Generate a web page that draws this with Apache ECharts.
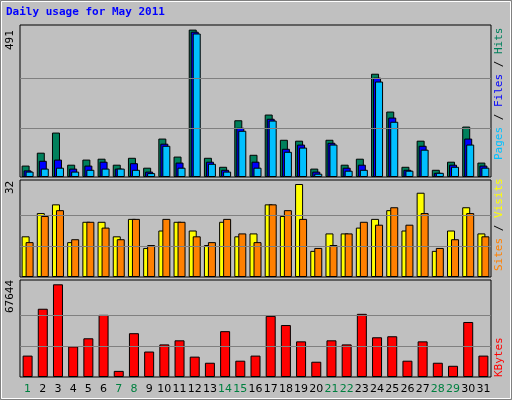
<!DOCTYPE html>
<html><head><meta charset="utf-8">
<script src="https://cdn.jsdelivr.net/npm/echarts@6/dist/echarts.min.js"></script>
<style>html,body{margin:0;padding:0;background:#C0C0C0}#c{width:512px;height:400px}</style>
</head><body><div id="c"></div>
<script>
const days = ['1','2','3','4','5','6','7','8','9','10','11','12','13','14','15','16','17','18','19','20','21','22','23','24','25','26','27','28','29','30','31'];
const weekend = ['1','7','8','14','15','21','22','28','29'];
const hits  = [38,81,148,41,58,61,41,64,31,128,68,491,64,34,189,74,208,124,121,28,124,41,61,344,218,34,121,24,51,168,48];
const files = [22,54,58,28,38,51,28,46,18,111,48,484,51,24,164,51,194,94,108,18,114,31,41,331,198,24,104,14,41,128,38];
const pages = [18,28,31,18,24,28,28,24,13,104,31,478,44,18,154,31,188,84,98,11,108,21,24,318,184,21,91,14,34,108,31];
const visits = [14,22,25,12,19,19,14,20,10,16,19,16,11,19,14,15,25,21,32,9,15,15,17,20,23,16,29,9,16,24,15];
const sites  = [12,21,23,13,19,17,13,20,11,20,19,14,12,20,15,12,25,23,20,10,11,15,19,18,24,18,22,10,13,22,14];
const kbytes = [15610,49805,67644,22300,28247,45345,4460,31964,18584,23787,26761,14867,10407,33451,11894,15610,44601,37911,26017,11150,26761,23787,46088,28990,29734,11894,26017,10407,8177,40141,15610];
const maxHits = 491, maxVisits = 32, maxKB = 67644;

const chart = echarts.init(document.getElementById('c'), null, {renderer:'canvas'});
const grids = [
  {left:20, right:21, top:25, height:152},
  {left:20, right:21, top:180, height:97},
  {left:20, right:21, top:280, height:97}
];
const ymax = [maxHits*152/147.4, maxVisits*97/93, maxKB*97/92.7];
const thirds = m => [{yAxis:m/3},{yAxis:2*m/3}];
function gridLine(idx, m){
  return {type:'line', xAxisIndex:idx, yAxisIndex:idx, data:[], z:1, silent:true,
    markLine:{silent:true, symbol:'none', label:{show:false}, animation:false,
      lineStyle:{color:'#808080', type:'solid', width:1}, data:thirds(m)}};
}
const bs = (name, data, color, idx, w, gap) => ({type:'bar', name, data, xAxisIndex:idx, yAxisIndex:idx,
  barWidth:w, barGap:gap, z:3, itemStyle:{color, borderColor:'#000', borderWidth:1}, animation:false});
const mono = '11px "DejaVu Sans Mono"';

chart.setOption({
  backgroundColor:'#C0C0C0',
  animation:false,
  grid: grids.map(g => Object.assign({show:true, backgroundColor:'#C0C0C0', borderColor:'#000', borderWidth:1}, g)),
  xAxis: [0,1,2].map(i => ({type:'category', gridIndex:i, data:days, boundaryGap:true,
    axisLine:{show:false}, axisTick:{show:false},
    axisLabel:{show:i===2, interval:0, margin:7, fontFamily:'DejaVu Sans', fontSize:11,
      color: v => weekend.includes(v) ? '#008040' : '#000'}})),
  yAxis: [0,1,2].map(i => ({type:'value', gridIndex:i, min:0, max:ymax[i],
    axisLine:{show:false}, axisTick:{show:false}, axisLabel:{show:false}, splitLine:{show:false}})),
  series: [
    gridLine(0,maxHits), gridLine(1,maxVisits), gridLine(2,maxKB),
    bs('Hits', hits, '#00805C', 0, 8, '-75%'),
    bs('Files', files, '#0000FF', 0, 8, '-75%'),
    bs('Pages', pages, '#00C0FF', 0, 8, '-75%'),
    bs('Visits', visits, '#FFFF00', 1, 8, '-50%'),
    bs('Sites', sites, '#FF8000', 1, 8, '-50%'),
    bs('KBytes', kbytes, '#FF0000', 2, 10, '0%')
  ],
  graphic: [
    {type:'rect', shape:{x:0.5,y:0.5,width:511,height:399}, style:{fill:'none', stroke:'#808080', lineWidth:1}, silent:true},
    {type:'rect', shape:{x:1.5,y:1.5,width:509,height:397}, style:{fill:'none', stroke:'#FFFFFF', lineWidth:1}, silent:true},
    {type:'text', left:6, top:7, style:{text:'Daily usage for May 2011', fill:'#0000FF', font:'bold 11px "DejaVu Sans Mono"'}},
    {type:'text', x:5, y:50, rotation:Math.PI/2, style:{text:String(maxHits), fill:'#000', font:mono}},
    {type:'text', x:5, y:194, rotation:Math.PI/2, style:{text:String(maxVisits), fill:'#000', font:mono}},
    {type:'text', x:5, y:313, rotation:Math.PI/2, style:{text:String(maxKB), fill:'#000', font:mono}},
    {type:'text', x:494, y:160, rotation:Math.PI/2, style:{
      text:'{p|Pages}{s| / }{f|Files}{s| / }{h|Hits}', font:mono,
      rich:{p:{fill:'#00C0FF',font:mono},s:{fill:'#000',font:mono},f:{fill:'#0000FF',font:mono},h:{fill:'#00805C',font:mono}}}},
    {type:'text', x:494, y:271, rotation:Math.PI/2, style:{
      text:'{si|Sites}{s| / }{v|Visits}', font:mono,
      rich:{si:{fill:'#FF8000',font:mono},s:{fill:'#000',font:mono},v:{fill:'#FFFF00',font:mono}}}},
    {type:'text', x:494, y:377, rotation:Math.PI/2, style:{text:'KBytes', fill:'#FF0000', font:mono}}
  ]
});
</script></body></html>
